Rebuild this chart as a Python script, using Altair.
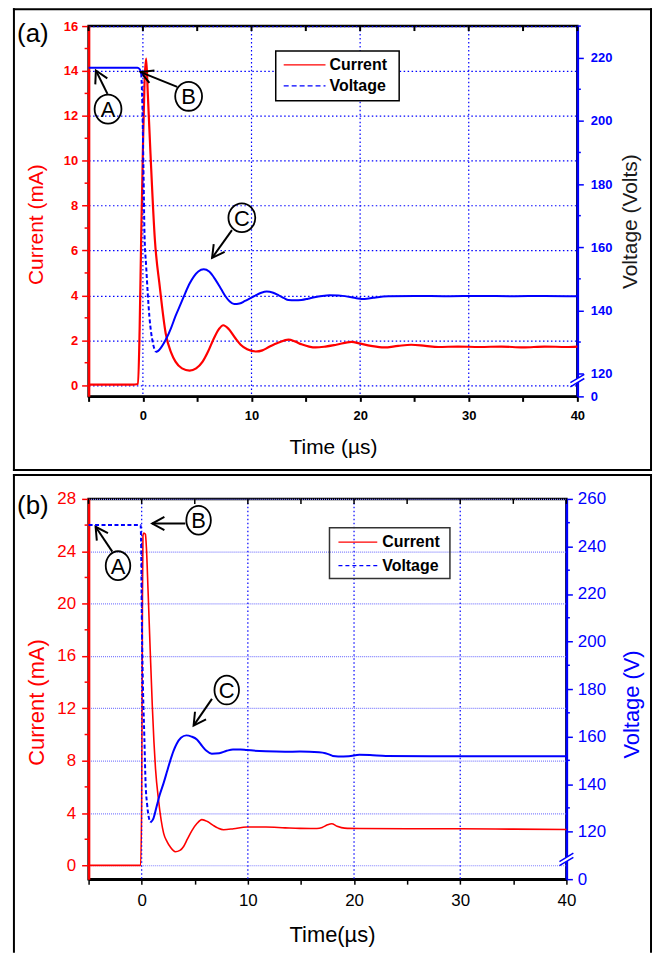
import math
import altair as alt
import pandas as pd

# ---------------- traces ----------------
# (a) current (mA) and voltage (V) versus time (us)
a_cur_t = [-5, -1.0, -0.45, -0.3, -0.16, 0.0, 0.15, 0.3, 0.45, 0.7, 1.1, 1.55, 2.1, 2.6, 3.0,
           3.6, 4.3, 4.9, 5.5, 6.0, 6.5, 7.0, 7.4, 7.9, 8.5, 9.0, 9.6, 10.4, 11.0, 11.6, 12.5,
           13.4, 14.0, 14.6, 15.3, 15.9, 16.8, 17.8, 19.2, 20.0, 21.0, 22.2, 23.5, 24.7, 26.0,
           27.2, 29.0, 31.0, 33.0, 35.0, 37.0, 39.0, 40.0]
a_cur_i = [0.02, 0.02, 0.05, 2.5, 6.5, 10.5, 13.5, 14.55, 13.0, 10.3, 6.5, 4.4, 2.3, 1.45, 1.05,
           0.75, 0.65, 0.75, 1.05, 1.5, 2.05, 2.5, 2.67, 2.5, 2.1, 1.8, 1.6, 1.5, 1.55, 1.7, 1.9,
           2.03, 1.95, 1.82, 1.72, 1.68, 1.72, 1.8, 1.93, 1.85, 1.75, 1.68, 1.75, 1.8, 1.75,
           1.7, 1.72, 1.7, 1.72, 1.68, 1.72, 1.7, 1.72]
a_volt_t = [-5, -0.5, -0.3, -0.15, -0.05, 0.05, 0.15, 0.3, 0.6, 0.9, 1.2, 1.5, 2.1, 2.6, 3.0,
            3.5, 3.9, 4.3, 4.7, 5.1, 5.6, 6.1, 6.7, 7.2, 7.6, 8.0, 8.4, 8.9, 9.4, 9.9, 10.3,
            10.9, 11.4, 12.0, 12.5, 13.0, 13.4, 14.0, 14.6, 15.2, 15.8, 16.5, 17.2, 18.0, 19.2,
            19.8, 20.4, 21.2, 22.6, 25.0, 28.0, 31.0, 34.0, 37.0, 40.0]
a_volt_v = [216.8, 216.8, 216.4, 215.0, 205, 185, 164, 154, 138, 130, 126.8, 127.5, 130.7, 134.5,
            138.2, 142.2, 145.5, 148.5, 150.8, 152.3, 153.0, 152.3, 149.6, 146.8, 144.5, 142.8,
            142.0, 142.2, 143.0, 143.9, 144.6, 145.6, 146.0, 145.6, 144.8, 143.9, 143.3, 143.2,
            143.3, 143.7, 144.2, 144.6, 144.8, 144.7, 144.2, 143.8, 143.6, 144.0, 144.5, 144.6,
            144.5, 144.6, 144.5, 144.6, 144.5]

# (b) current (mA) and voltage (V) versus time (us)
b_cur_t = [-5, -0.1, 0.0, 0.07, 0.12, 0.2, 0.35, 0.45, 0.6, 0.8, 1.0, 1.15, 1.3, 1.6, 2.07, 2.4,
           2.7, 3.17, 3.6, 3.95, 4.3, 4.73, 5.2, 5.67, 6.2, 6.77, 7.2, 7.71, 8.65, 9.9, 11.7,
           13.5, 14.9, 16.5, 17.0, 17.5, 17.9, 18.4, 19.1, 20.5, 25, 30, 35, 40]
b_cur_i = [0, 0, 5, 20, 25.2, 25.4, 25.3, 24.2, 21.0, 16.5, 12.2, 9.5, 7.4, 4.9, 2.45, 1.8,
           1.4, 1.05, 1.15, 1.45, 2.0, 2.66, 3.2, 3.5, 3.35, 3.04, 2.85, 2.73, 2.8, 2.93, 2.93,
           2.87, 2.83, 2.82, 2.9, 3.1, 3.18, 3.0, 2.85, 2.82, 2.8, 2.8, 2.77, 2.74]
b_volt_t = [-5, -0.1, -0.05, 0.0, 0.1, 0.25, 0.37, 0.5, 0.65, 0.83, 1.1, 1.4, 1.7, 2.07, 2.4,
            2.7, 3.0, 3.3, 3.7, 4.2, 4.7, 5.2, 5.7, 6.1, 6.6, 7.3, 8.0, 8.6, 9.3, 9.9, 11.7,
            13.5, 14.9, 16.7, 17.3, 17.7, 18.0, 18.5, 19.5, 20.5, 21.5, 23.0, 30, 40]
b_volt_v = [249, 249, 240, 215, 185, 160, 140, 132, 126.5, 123.9, 125.5, 130.5, 135.5, 140.5,
            145.5, 150, 154, 157, 159.5, 160.5, 160, 158.8, 156, 154, 152.8, 153, 154, 154.6,
            154.6, 154.3, 153.8, 153.6, 153.7, 153.4, 153.0, 152.4, 151.8, 151.6, 151.7, 152.3,
            152.2, 151.8, 151.7, 151.7]

series_names = ["Current", "Voltage"]
marker_letters = ["A", "B", "C"]

# tick values
x_ticks = list(range(-5, 41, 5))
x_grid = [0, 10, 20, 30]
a_current_major = list(range(0, 17, 2))
a_current_minor = list(range(1, 16, 2))
a_voltage_major = [112.8] + list(range(120, 221, 20))
a_voltage_minor = list(range(130, 231, 20))
b_current_major = list(range(0, 29, 4))
b_current_minor = list(range(2, 27, 4))
b_voltage_major = [100] + list(range(120, 261, 20))
b_voltage_minor = list(range(130, 251, 20))

# circled markers and their arrows, in (time, current) units
a_marker_t = [-3.21, 4.21, 9.11]
a_marker_i = [12.30, 12.87, 7.46]
a_arrow_t0 = [-3.26, 3.16, 8.20]
a_arrow_i0 = [12.98, 13.29, 6.91]
a_arrow_t1 = [-4.33, -0.21, 6.37]
a_arrow_i1 = [14.02, 13.95, 5.67]

b_marker_t = [-2.23, 5.36, 8.01]
b_marker_i = [22.90, 26.37, 13.40]
b_arrow_t0 = [-2.77, 4.11, 6.62]
b_arrow_i0 = [23.97, 26.12, 12.72]
b_arrow_t1 = [-4.34, 0.99, 4.89]
b_arrow_i1 = [25.87, 26.12, 10.68]

# ---------------- styling ----------------
FONT = "Liberation Sans"
RED = "#ff0000"
BLUE = "#0000ff"

ARROW_HEAD = "M -0.55 1 L 0 0 L 0.55 1"
BREAK_LINES = "M -1 0.3 L 1 -0.9 M -1 0.9 L 1 -0.3"
BREAK_GAP = "M -0.35 -0.09 L 0.35 -0.51 L 0.35 0.09 L -0.35 0.51 Z"


def ellipse_path(a):
    k = 0.5523
    ak = a * k
    return (f"M {a} 0 C {a} {k} {ak:.4f} 1 0 1 C {-ak:.4f} 1 {-a} {k} {-a} 0 "
            f"C {-a} {-k} {-ak:.4f} -1 0 -1 C {ak:.4f} -1 {a} {-k} {a} 0 Z")


def build_panel(d, s):
    W, H = s["width"], s["height"]
    cdom, vdom = s["cdom"], s["vdom"]
    xs = alt.Scale(domain=[-5, 40], nice=False, zero=False)
    cs = alt.Scale(domain=cdom, nice=False, zero=False)
    vs = alt.Scale(domain=vdom, nice=False, zero=False)
    px_t = W / 45.0
    px_c = H / (cdom[1] - cdom[0])

    lab = dict(labelFont=FONT, labelFontSize=s["tick_fs"], labelFontWeight=s["tick_fw"],
               labelFlush=False, labelOverlap=False)
    ttl = dict(titleFont=FONT, titleFontSize=s["title_fs"], titleFontWeight="normal",
               titleAlign="center")

    x_axis = alt.Axis(
        values=x_ticks, labelExpr="datum.value % 10 === 0 ? datum.label : ''",
        domainColor="black", domainWidth=2.5, tickColor="black", tickWidth=s["xtick_w"],
        tickSize=5, labelColor="black", labelPadding=8, grid=False,
        title=s["x_title"], titleColor="black", titleX=s["x_title_x"], titleY=s["x_title_y"],
        titleBaseline="alphabetic", **lab, **ttl)

    c_axis = alt.Axis(
        orient="left", values=d["c_major"], domainColor=RED, domainWidth=2.5, tickColor=RED,
        tickWidth=1.5, tickSize=7, labelColor=RED, labelPadding=s["c_pad"],
        grid=True, gridColor=s["hgrid_color"], gridDash=s["hgrid_dash"], gridWidth=1.2,
        title="Current (mA)", titleColor=RED, titleAngle=270, titleBaseline="middle",
        titleX=s["c_title_x"], titleY=s["c_title_y"], **lab, **ttl)

    vb = s["v_zero"]
    v_axis = alt.Axis(
        orient="right", values=d["v_major"],
        labelExpr=f"datum.value === {vb} ? '0' : datum.label",
        domainColor=BLUE, domainWidth=2.5, tickColor=BLUE, tickWidth=1.5, tickSize=6,
        labelColor=BLUE, labelPadding=s["v_pad"], grid=False,
        title=s["v_title"], titleColor=s["v_title_color"], titleAngle=270,
        titleBaseline="middle", titleX=s["v_title_x"], titleY=s["v_title_y"], **lab, **ttl)

    # x is shared by all layers (its axis comes from the current trace);
    # every y scale is independent and carries its own explicit domain
    X = lambda f: alt.X(f, scale=xs)
    YC = lambda f: alt.Y(f, scale=cs, axis=None)
    YV = lambda f: alt.Y(f, scale=vs, axis=None)
    one = pd.DataFrame({"k": [0]})

    # frame around the panel
    fx0, fx1, fy0, fy1 = s["frame"]
    frame = []
    for side in s["frame_sides"]:
        base = alt.Chart(one).mark_rule(color="black", strokeWidth=2, strokeCap="square")
        if side == "left":
            frame.append(base.encode(x=alt.value(fx0), y=alt.value(fy0), y2=alt.value(fy1)))
        elif side == "right":
            frame.append(base.encode(x=alt.value(fx1), y=alt.value(fy0), y2=alt.value(fy1)))
        elif side == "top":
            frame.append(base.encode(y=alt.value(fy0), x=alt.value(fx0), x2=alt.value(fx1)))
        else:
            frame.append(base.encode(y=alt.value(fy1), x=alt.value(fx0), x2=alt.value(fx1)))

    tag = alt.Chart(pd.DataFrame({"tag": [s["tag"]]})).mark_text(
        font=FONT, fontSize=26, color="black", align="center", baseline="middle"
    ).encode(x=alt.value(s["tag_xy"][0]), y=alt.value(s["tag_xy"][1]), text="tag:N")

    # vertical dotted grid
    vgrid = alt.Chart(pd.DataFrame({"t": x_grid})).mark_rule(
        color=s["vgrid_color"], strokeWidth=1.2, strokeDash=s["vgrid_dash"]
    ).encode(x=X("t:Q"), y=alt.value(0), y2=alt.value(H))

    cur = pd.DataFrame({"t": d["cur_t"], "i": d["cur_i"]})
    current_line = alt.Chart(cur).mark_line(
        color=RED, strokeWidth=s["cur_w"], interpolate="monotone"
    ).encode(x=alt.X("t:Q", scale=xs, axis=x_axis), y=alt.Y("i:Q", scale=cs, axis=c_axis))

    # inward ticks along the top edge, short minor ticks on the left axis
    top_ticks = alt.Chart(pd.DataFrame({"t": x_ticks})).mark_rule(
        color="black", strokeWidth=s["xtick_w"]
    ).encode(x=X("t:Q"), y=alt.value(0), y2=alt.value(5))
    c_minor = alt.Chart(pd.DataFrame({"i": d["c_minor"]})).mark_rule(
        color=RED, strokeWidth=1.5
    ).encode(y=YC("i:Q"), x=alt.value(-4), x2=alt.value(0))

    # circled letters
    mk = pd.DataFrame({"t": d["mk_t"], "i": d["mk_i"], "letter": marker_letters})
    rings = alt.Chart(mk).mark_point(
        shape=ellipse_path(s["ring_ratio"]), size=s["ring_h"] ** 2, filled=False,
        color="black", strokeWidth=1.8, opacity=1
    ).encode(x=X("t:Q"), y=YC("i:Q"))
    letters = alt.Chart(mk).mark_text(
        font=FONT, fontSize=22, color="black", align="center", baseline="middle", dy=1
    ).encode(x=X("t:Q"), y=YC("i:Q"), text="letter:N")

    # arrows
    arr = pd.DataFrame({"t0": d["ar_t0"], "i0": d["ar_i0"], "t1": d["ar_t1"], "i1": d["ar_i1"]})
    arr["ang"] = [
        math.degrees(math.atan2((t1 - t0) * px_t, (i1 - i0) * px_c)) % 360
        for t0, i0, t1, i1 in zip(arr.t0, arr.i0, arr.t1, arr.i1)
    ]
    shafts = alt.Chart(arr).mark_rule(color="black", strokeWidth=2).encode(
        x=X("t0:Q"), x2="t1:Q", y=YC("i0:Q"), y2="i1:Q")
    heads = alt.Chart(arr).mark_point(
        shape=ARROW_HEAD, size=600, filled=False, color="black", strokeWidth=2, opacity=1
    ).encode(x=X("t1:Q"), y=YC("i1:Q"), angle=alt.Angle("ang:Q", scale=None))

    # legend
    L = s["legend"]
    legend = [alt.Chart(one).mark_rect(fill=L["fill"], stroke=L["stroke"], strokeWidth=1.5).encode(
        x=alt.value(L["box"][0]), x2=alt.value(L["box"][1]),
        y=alt.value(L["box"][2]), y2=alt.value(L["box"][3]))]
    for k, name in enumerate(series_names):
        yk = L["rows"][k]
        kw = dict(color=[RED, BLUE][k], strokeWidth=1.3)
        if k == 1:
            kw["strokeDash"] = L["dash"]
        legend.append(alt.Chart(one).mark_rule(**kw).encode(
            x=alt.value(L["line"][0]), x2=alt.value(L["line"][1]), y=alt.value(yk)))
        legend.append(alt.Chart(pd.DataFrame({"name": [name]})).mark_text(
            font=FONT, fontSize=16, fontWeight="bold", color="black", align="left",
            baseline="middle").encode(x=alt.value(L["text_x"]), y=alt.value(yk), text="name:N"))

    # voltage: steep part dashed, the rest solid
    lo, hi = s["dash_span"]
    rows = list(zip(d["volt_t"], d["volt_v"]))
    solid = [(t, v, "pre") for t, v in rows if t <= lo] + [(t, v, "post") for t, v in rows if t >= hi]
    dashed = [(t, v) for t, v in rows if lo <= t <= hi]
    solid_df = pd.DataFrame(solid, columns=["t", "v", "part"])
    dash_df = pd.DataFrame(dashed, columns=["t", "v"])

    volt_solid = alt.Chart(solid_df).mark_line(
        color=BLUE, strokeWidth=s["volt_w"], interpolate="monotone"
    ).encode(x=X("t:Q"), y=alt.Y("v:Q", scale=vs, axis=v_axis), detail="part:N")
    volt_dash = alt.Chart(dash_df).mark_line(
        color=BLUE, strokeWidth=s["volt_w"], strokeDash=[4, 2.5], interpolate="monotone"
    ).encode(x=X("t:Q"), y=YV("v:Q"))
    v_minor = alt.Chart(pd.DataFrame({"v": d["v_minor"]})).mark_rule(
        color=BLUE, strokeWidth=1.5
    ).encode(y=YV("v:Q"), x=alt.value(W), x2=alt.value(W + 3.5))

    brk = pd.DataFrame({"t": [40], "v": [s["break_v"]]})
    gap = alt.Chart(brk).mark_point(
        shape=BREAK_GAP, size=196, filled=True, color="white", opacity=1
    ).encode(x=X("t:Q"), y=YV("v:Q"))
    slashes = alt.Chart(brk).mark_point(
        shape=BREAK_LINES, size=196, filled=False, color=BLUE, strokeWidth=1.5, opacity=1
    ).encode(x=X("t:Q"), y=YV("v:Q"))

    return alt.layer(
        current_line, volt_solid, *frame, tag, vgrid, top_ticks, c_minor, rings, letters,
        shafts, heads, *legend, volt_dash, v_minor, gap, slashes
    ).resolve_scale(y="independent").properties(width=W, height=H)


data_a = dict(cur_t=a_cur_t, cur_i=a_cur_i, volt_t=a_volt_t, volt_v=a_volt_v,
              c_major=a_current_major, c_minor=a_current_minor,
              v_major=a_voltage_major, v_minor=a_voltage_minor,
              mk_t=a_marker_t, mk_i=a_marker_i, ar_t0=a_arrow_t0, ar_i0=a_arrow_i0,
              ar_t1=a_arrow_t1, ar_i1=a_arrow_i1)
style_a = dict(
    width=491, height=372, cdom=[-0.5, 16], vdom=[112.8, 230], v_zero=112.8, break_v=117.8,
    tick_fs=13, tick_fw="bold", title_fs=21, xtick_w=2,
    vgrid_color=BLUE, vgrid_dash=[1.5, 2.5], hgrid_color=BLUE, hgrid_dash=[1.5, 2.5],
    x_title="Time (\u00b5s)", x_title_x=245.5, x_title_y=57.5,
    c_pad=4, c_title_x=-52, c_title_y=199,
    v_pad=7, v_title="Voltage (Volts)", v_title_color="#1a1a1a", v_title_x=53, v_title_y=196,
    frame=(-75, 565, -17, 446), frame_sides=["left", "top", "right", "bottom"],
    tag="(a)", tag_xy=(-56, 8), cur_w=2.2, volt_w=2, dash_span=(-0.15, 1.2),
    ring_ratio=0.93, ring_h=29,
    legend=dict(box=(188, 312, 25, 75), fill="white", stroke="black",
                line=(196, 238), rows=(39, 60), text_x=242, dash=[5, 3]),
)

data_b = dict(cur_t=b_cur_t, cur_i=b_cur_i, volt_t=b_volt_t, volt_v=b_volt_v,
              c_major=b_current_major, c_minor=b_current_minor,
              v_major=b_voltage_major, v_minor=b_voltage_minor,
              mk_t=b_marker_t, mk_i=b_marker_i, ar_t0=b_arrow_t0, ar_i0=b_arrow_i0,
              ar_t1=b_arrow_t1, ar_i1=b_arrow_i1)
style_b = dict(
    width=480, height=382, cdom=[-1.05, 28], vdom=[100, 260], v_zero=100, break_v=108.3,
    tick_fs=17, tick_fw="normal", title_fs=22, xtick_w=1.5,
    vgrid_color=BLUE, vgrid_dash=[1.5, 2.5], hgrid_color="#7f7fff", hgrid_dash=[1, 1],
    x_title="Time(\u00b5s)", x_title_x=244.5, x_title_y=62.5,
    c_pad=6, c_title_x=-52.5, c_title_y=204,
    v_pad=5, v_title="Voltage (V)", v_title_color=BLUE, v_title_x=65, v_title_y=206,
    frame=(-75, 565, -24, 455), frame_sides=["left", "top", "right"],
    tag="(b)", tag_xy=(-56, 7), cur_w=1.6, volt_w=2, dash_span=(-5, 0.83),
    ring_ratio=0.85, ring_h=29,
    legend=dict(box=(242, 363, 29, 80), fill="transparent", stroke="#333333",
                line=(251, 290), rows=(43.5, 67), text_x=295, dash=[4, 3]),
)

panel_a = build_panel(data_a, style_a)
panel_b = build_panel(data_b, style_b)

chart = alt.vconcat(panel_a, panel_b, spacing=103, bounds="flush").properties(
    padding={"left": 11, "top": 4, "right": 0, "bottom": 0}
).configure_view(stroke="black", strokeWidth=2.5)

chart.save("out.html", embed_options={"renderer": "svg", "actions": False})
